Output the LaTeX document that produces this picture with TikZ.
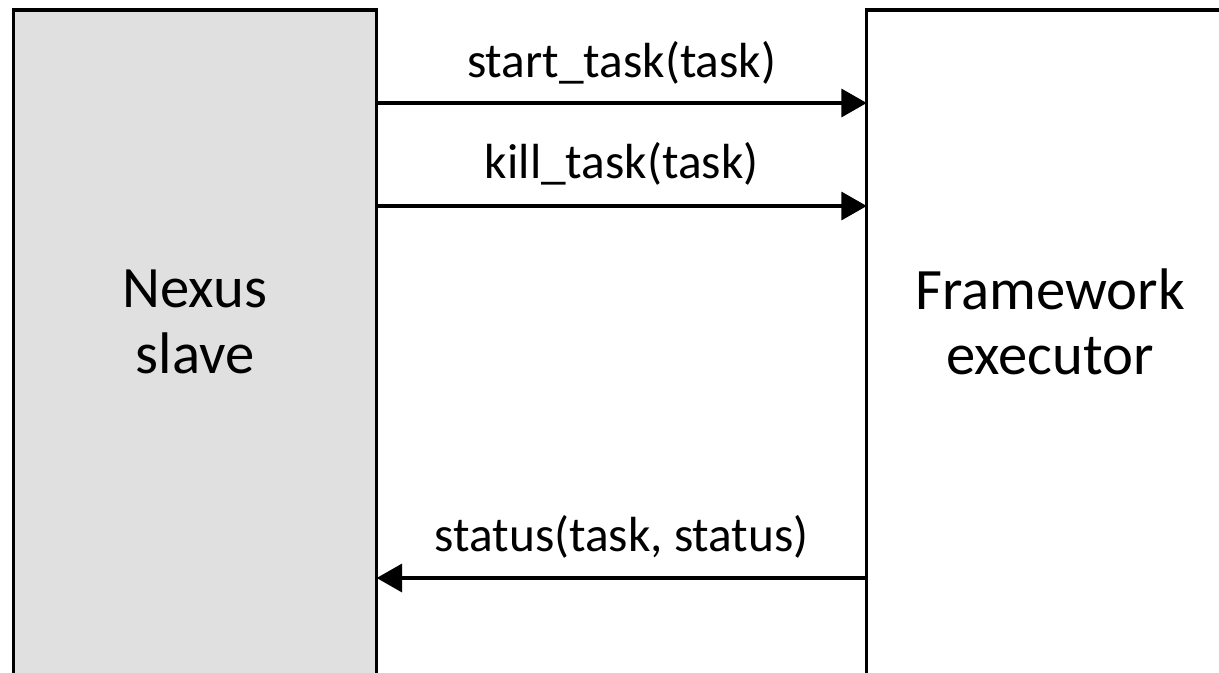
\documentclass[tikz,border=0pt]{standalone}
\usepackage{fontspec}
\setmainfont{Carlito}
\usetikzlibrary{arrows.meta}
\definecolor{boxgray}{RGB}{224,224,224}
\tikzset{
  lane/.style={draw=black, line width=2.4pt, minimum width=272.5pt, minimum height=525pt, inner sep=0pt, outer sep=0pt},
  boxtext/.style={align=center, font=\fontsize{44}{49}\selectfont, inner sep=0pt},
  msg/.style={line width=2.4pt, -{Triangle[length=19pt,width=21pt]}},
  msglabel/.style={font=\fontsize{37}{40}\selectfont, anchor=base, inner sep=0pt}
}
\begin{document}
\begin{tikzpicture}[x=0.75pt,y=-0.75pt]
\useasboundingbox (0,0) rectangle (1219,672);
\clip (0,0) rectangle (1219,672);
\node[lane, fill=boxgray] (slave) at (195,360) {};
\node[lane, fill=white] (exec) at (1048.4,360) {};
\node[boxtext] (slavetxt) at (195,322) {Nexus\\slave};
\node[boxtext] (exectxt) at (1050,322) {Framework\\executor};
\coordinate (y1) at (0,103);
\coordinate (y2) at (0,206);
\coordinate (y3) at (0,578);
\draw[msg] (slave.east |- y1) -- node[msglabel, yshift=19pt] (l1) {start\_task(task)} (exec.west |- y1);
\draw[msg] (slave.east |- y2) -- node[msglabel, yshift=20.5pt] (l2) {kill\_task(task)} (exec.west |- y2);
\draw[msg] (exec.west |- y3) -- node[msglabel, yshift=20pt] (l3) {status(task, status)} (slave.east |- y3);
\end{tikzpicture}
\end{document}
